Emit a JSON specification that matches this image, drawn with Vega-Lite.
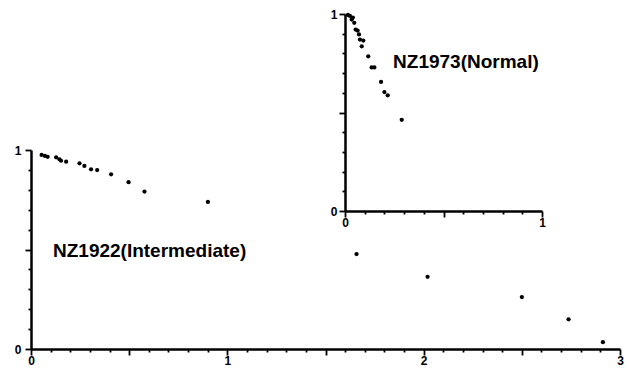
{
  "$schema": "https://vega.github.io/schema/vega-lite/v6.json",
  "width": 630,
  "height": 370,
  "autosize": "none",
  "padding": 0,
  "background": "white",
  "config": {
    "view": {"stroke": null},
    "axis": {
      "grid": false,
      "domainColor": "black",
      "domainWidth": 2.5,
      "tickColor": "black",
      "tickWidth": 1.8,
      "tickSize": {"condition": {"test": "datum.value % 0.5 === 0", "value": 6}, "value": 3},
      "labelColor": "black",
      "labelFont": "Liberation Sans",
      "labelFontWeight": "bold",
      "labelFontSize": 12,
      "labelOverlap": false,
      "labelBound": false,
      "labelFlush": false,
      "title": null
    },
    "text": {"font": "Liberation Sans", "fontWeight": "bold", "color": "black"}
  },
  "datasets": {
    "main": [
      {"x": 0.054, "y": 0.975}, {"x": 0.071, "y": 0.970}, {"x": 0.085, "y": 0.966},
      {"x": 0.128, "y": 0.963}, {"x": 0.145, "y": 0.953}, {"x": 0.153, "y": 0.946},
      {"x": 0.179, "y": 0.941}, {"x": 0.247, "y": 0.933}, {"x": 0.272, "y": 0.920},
      {"x": 0.306, "y": 0.903}, {"x": 0.337, "y": 0.899}, {"x": 0.408, "y": 0.878},
      {"x": 0.497, "y": 0.838}, {"x": 0.578, "y": 0.791}, {"x": 0.901, "y": 0.739},
      {"x": 1.658, "y": 0.477}, {"x": 2.02, "y": 0.363}, {"x": 2.5, "y": 0.261},
      {"x": 2.738, "y": 0.149}, {"x": 2.913, "y": 0.034}
    ],
    "inset": [
      {"x": 0.015, "y": 0.995}, {"x": 0.025, "y": 0.990}, {"x": 0.034, "y": 0.972},
      {"x": 0.04, "y": 0.982}, {"x": 0.047, "y": 0.955}, {"x": 0.054, "y": 0.921},
      {"x": 0.064, "y": 0.916}, {"x": 0.071, "y": 0.896}, {"x": 0.076, "y": 0.870},
      {"x": 0.093, "y": 0.865}, {"x": 0.085, "y": 0.836}, {"x": 0.118, "y": 0.785},
      {"x": 0.135, "y": 0.729}, {"x": 0.149, "y": 0.729}, {"x": 0.183, "y": 0.655},
      {"x": 0.200, "y": 0.604}, {"x": 0.217, "y": 0.587}, {"x": 0.288, "y": 0.463}
    ],
    "mainLabel": [{"x": 0.112, "y": 0.49, "t": "NZ1922(Intermediate)"}],
    "insetLabel": [{"x": 0.244, "y": 0.755, "t": "NZ1973(Normal)"}]
  },
  "layer": [
    {
      "data": {"name": "main"},
      "mark": {"type": "circle", "size": 18, "color": "black", "opacity": 1},
      "encoding": {
        "x": {
          "field": "x", "type": "quantitative",
          "scale": {"domain": [0, 3], "range": [31, 620], "nice": false, "zero": false},
          "axis": {
            "orient": "bottom", "offset": -21,
            "values": [0, 0.1, 0.2, 0.3, 0.4, 0.5, 0.6, 0.7, 0.8, 0.9, 1, 1.1, 1.2, 1.3, 1.4, 1.5, 1.6, 1.7, 1.8, 1.9, 2, 2.1, 2.2, 2.3, 2.4, 2.5, 2.6, 2.7, 2.8, 2.9, 3],
            "labelExpr": "datum.value % 1 === 0 ? '' + datum.value : ''",
            "labelPadding": 0
          }
        },
        "y": {
          "field": "y", "type": "quantitative",
          "scale": {"domain": [0, 1], "range": [349, 150], "nice": false, "zero": false},
          "axis": {
            "orient": "left", "offset": -31,
            "values": [0, 0.1, 0.2, 0.3, 0.4, 0.5, 0.6, 0.7, 0.8, 0.9, 1],
            "labelExpr": "datum.value % 1 === 0 ? '' + datum.value : ''",
            "labelPadding": 4
          }
        }
      }
    },
    {
      "data": {"name": "mainLabel"},
      "mark": {"type": "text", "fontSize": 19, "align": "left", "baseline": "middle"},
      "encoding": {
        "x": {"field": "x", "type": "quantitative", "scale": {"domain": [0, 3], "range": [31, 620], "nice": false, "zero": false}, "axis": null},
        "y": {"field": "y", "type": "quantitative", "scale": {"domain": [0, 1], "range": [349, 150], "nice": false, "zero": false}, "axis": null},
        "text": {"field": "t"}
      }
    },
    {
      "data": {"name": "inset"},
      "mark": {"type": "circle", "size": 18, "color": "black", "opacity": 1},
      "encoding": {
        "x": {
          "field": "x", "type": "quantitative",
          "scale": {"domain": [0, 1], "range": [345, 542], "nice": false, "zero": false},
          "axis": {
            "orient": "bottom", "offset": -159,
            "values": [0, 0.1, 0.2, 0.3, 0.4, 0.5, 0.6, 0.7, 0.8, 0.9, 1],
            "labelExpr": "datum.value % 1 === 0 ? '' + datum.value : ''",
            "labelPadding": 0
          }
        },
        "y": {
          "field": "y", "type": "quantitative",
          "scale": {"domain": [0, 1], "range": [211, 14], "nice": false, "zero": false},
          "axis": {
            "orient": "left", "offset": -345,
            "values": [0, 0.1, 0.2, 0.3, 0.4, 0.5, 0.6, 0.7, 0.8, 0.9, 1],
            "labelExpr": "datum.value % 1 === 0 ? '' + datum.value : ''",
            "labelPadding": 2
          }
        }
      }
    },
    {
      "data": {"name": "insetLabel"},
      "mark": {"type": "text", "fontSize": 19, "align": "left", "baseline": "middle"},
      "encoding": {
        "x": {"field": "x", "type": "quantitative", "scale": {"domain": [0, 1], "range": [345, 542], "nice": false, "zero": false}, "axis": null},
        "y": {"field": "y", "type": "quantitative", "scale": {"domain": [0, 1], "range": [211, 14], "nice": false, "zero": false}, "axis": null},
        "text": {"field": "t"}
      }
    }
  ],
  "resolve": {"scale": {"x": "independent", "y": "independent"}}
}
